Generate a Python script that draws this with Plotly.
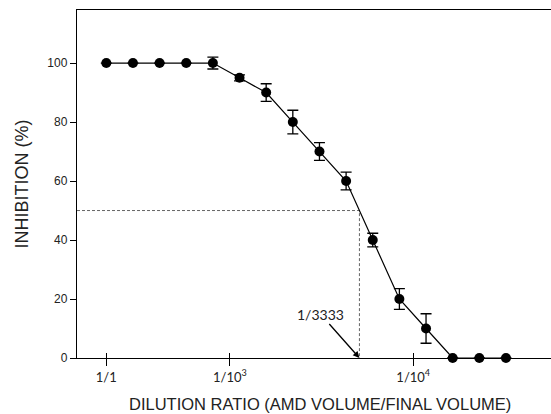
import plotly.graph_objects as go

# Serial dilution steps (evenly spaced positions on the x axis)
step = list(range(16))
inhibition = [100, 100, 100, 100, 100, 95, 90, 80, 70, 60, 40, 20, 10, 0, 0, 0]
err = [0, 0, 0, 0, 2, 1, 3, 4, 3, 3, 2.3, 3.5, 5, 0, 0, 0]

tick_pos = [0, 4.64, 11.52]
tick_text = ["1/1", "1/10<sup>3</sup>", "1/10<sup>4</sup>"]

half_label = "1/3333"
half_level = 50

x_title = "DILUTION RATIO (AMD VOLUME/FINAL VOLUME)"
y_title = "INHIBITION (%)"

# x position where the curve crosses 50 % inhibition
x50 = None
for i in range(len(step) - 1):
    y0, y1 = inhibition[i], inhibition[i + 1]
    if (y0 - half_level) * (y1 - half_level) <= 0 and y0 != y1:
        x50 = step[i] + (y0 - half_level) / (y0 - y1) * (step[i + 1] - step[i])
        break

x_range = [-1.1, 16.69]
y_range = [0, 118]

fig = go.Figure()

# 50 % guide lines
fig.add_trace(go.Scatter(
    x=[x_range[0], x50, x50], y=[half_level, half_level, 0],
    mode="lines", line=dict(color="#666666", width=1, dash="3px,2px"),
    hoverinfo="skip", showlegend=False, cliponaxis=False,
))

fig.add_trace(go.Scatter(
    x=step, y=inhibition,
    mode="lines+markers",
    line=dict(color="black", width=1.2),
    marker=dict(color="black", size=10),
    error_y=dict(type="data", array=err, visible=True, color="black",
                 thickness=1.3, width=5.5),
    showlegend=False, cliponaxis=False,
))

# invisible trace so the overlay axis renders its inward ticks
fig.add_trace(go.Scatter(x=[x_range[0]], y=[0], xaxis="x2", mode="markers",
                         marker=dict(opacity=0), showlegend=False, hoverinfo="skip"))

fig.add_annotation(
    x=x50, y=0, text=half_label, showarrow=True,
    ax=-39, ay=-44, arrowhead=2, arrowsize=1, arrowwidth=1.3,
    arrowcolor="black", standoff=0,
    font=dict(family="Lato, Open Sans, sans-serif", size=14, color="#222222"),
)

# x-axis title, set slightly right of the plot centre
fig.add_annotation(
    xref="paper", yref="paper", x=0.5, y=0, xshift=6, yshift=-46,
    xanchor="center", yanchor="middle", showarrow=False, text=x_title,
    borderpad=0,
    font=dict(family="Liberation Sans, Arial, sans-serif", size=16.5, color="#222222"),
)

axis_font = dict(family="Liberation Sans, Arial, sans-serif", size=12, color="#222222")

fig.update_layout(
    width=551, height=414,
    margin=dict(l=77, r=0, t=10, b=56),
    paper_bgcolor="white", plot_bgcolor="white",
    xaxis=dict(
        range=x_range, tickmode="array", tickvals=tick_pos, ticktext=tick_text,
        ticks="outside", ticklen=7, tickwidth=1.3, tickcolor="black",
        showline=True, linecolor="black", linewidth=1.4, mirror=True,
        showgrid=False, zeroline=False,
        tickfont=dict(family="Lato, Open Sans, sans-serif", size=13, color="#222222"),
    ),
    xaxis2=dict(
        range=x_range, overlaying="x", matches="x", tickmode="array", tickvals=tick_pos,
        ticks="inside", ticklen=5, tickwidth=1.3, tickcolor="black",
        showticklabels=False, showline=False, showgrid=False, zeroline=False,
    ),
    yaxis=dict(
        range=y_range, tickmode="array", tickvals=[0, 20, 40, 60, 80, 100],
        ticks="outside", ticklen=6, tickwidth=1.3, tickcolor="black",
        showline=True, linecolor="black", linewidth=1.4,
        showgrid=False, zeroline=False, tickfont=axis_font,
        title=dict(text=y_title,
                   font=dict(family="Liberation Sans, Arial, sans-serif", size=18, color="#222222"),
                   standoff=14),
    ),
)

fig.write_html("out.html")
